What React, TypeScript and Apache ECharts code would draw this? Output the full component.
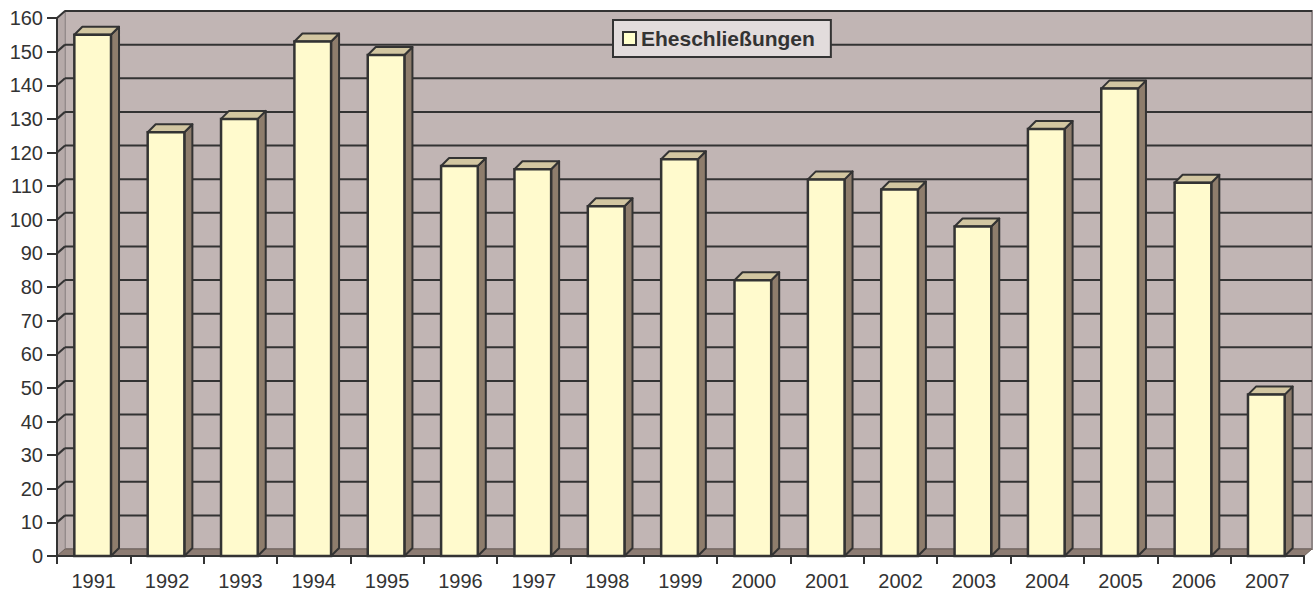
import React, { useEffect, useRef } from "react";
import * as echarts from "echarts";

const categories = ["1991","1992","1993","1994","1995","1996","1997","1998","1999","2000","2001","2002","2003","2004","2005","2006","2007"];
const values = [155, 126, 130, 153, 149, 116, 115, 104, 118, 82, 112, 109, 98, 127, 139, 111, 48];
const seriesName = "Eheschließungen";
const yTicks = [0,10,20,30,40,50,60,70,80,90,100,110,120,130,140,150,160];

const WALL_DX = 8;
const WALL_DY = 7;
const BAR_D = 8;
const FONT = "Arial, 'Liberation Sans', sans-serif";

export default function App() {
  const ref = useRef<HTMLDivElement>(null);
  useEffect(() => {
    if (!ref.current) return;
    const chart = echarts.init(ref.current, null, { renderer: "svg" });
    const textColor = "#333333";
    const option: any = {
      animation: false,
      backgroundColor: "#ffffff",
      grid: { left: 57, right: 10, top: 18, bottom: 35, containLabel: false },
      legend: {
        data: [{ name: seriesName, icon: "rect" }],
        left: 613,
        top: 20,
        z: 20,
        orient: "horizontal",
        padding: [8, 16, 8, 9],
        itemWidth: 13,
        itemHeight: 13,
        itemGap: 7,
        backgroundColor: "#e2dcdc",
        borderColor: "#333333",
        borderWidth: 2,
        borderRadius: 0,
        selectedMode: false,
        textStyle: { fontFamily: FONT, fontSize: 21, fontWeight: "bold", color: "#333333", padding: [0, 0, 0, 0] },
      },
      xAxis: {
        type: "category",
        data: categories,
        boundaryGap: true,
        axisLine: { show: true, lineStyle: { color: "#333333", width: 2 } },
        axisTick: { show: true, length: 8, lineStyle: { color: "#333333", width: 2 } },
        axisLabel: { margin: 15, fontSize: 20, color: textColor, fontFamily: FONT },
        splitLine: { show: false },
        z: 10,
      },
      yAxis: {
        type: "value",
        min: 0,
        max: 160,
        interval: 10,
        axisLine: { show: true, lineStyle: { color: "#333333", width: 2 } },
        axisTick: { show: true, length: 10, lineStyle: { color: "#333333", width: 2 } },
        axisLabel: { margin: 14, fontSize: 20, color: textColor, fontFamily: FONT },
        splitLine: { show: false },
        z: 10,
      },
      series: [
        {
          type: "custom",
          name: "__bg",
          silent: true,
          z: 1,
          data: [0],
          renderItem: (params: any, api: any) => {
            const cs = params.coordSys;
            const x0 = cs.x, x1 = cs.x + cs.width;
            const yb = api.coord([0, 0])[1];
            const yt = api.coord([0, 160])[1];
            const children: any[] = [];
            children.push({
              type: "rect",
              shape: { x: x0 + WALL_DX, y: yt - WALL_DY, width: x1 - x0, height: yb - yt },
              style: { fill: "#c1b5b4", stroke: "#8f8686", lineWidth: 2 },
            });
            children.push({
              type: "polygon",
              shape: { points: [[x0, yb], [x0, yt], [x0 + WALL_DX, yt - WALL_DY], [x0 + WALL_DX, yb - WALL_DY]] },
              style: { fill: "#b6aaa9", stroke: "#9a9090", lineWidth: 1 },
            });
            children.push({
              type: "polygon",
              shape: { points: [[x0, yb], [x1, yb], [x1 + WALL_DX, yb - WALL_DY], [x0 + WALL_DX, yb - WALL_DY]] },
              style: { fill: "#8d7c73", stroke: "#6e625c", lineWidth: 1 },
            });
            for (const v of yTicks) {
              if (v === 0) continue;
              const y = api.coord([0, v])[1];
              children.push({
                type: "line",
                shape: { x1: x0 + WALL_DX, y1: y - WALL_DY, x2: x1 + WALL_DX, y2: y - WALL_DY },
                style: { stroke: "#333333", lineWidth: 2 },
              });
              children.push({
                type: "line",
                shape: { x1: x0, y1: y, x2: x0 + WALL_DX, y2: y - WALL_DY },
                style: { stroke: "#333333", lineWidth: 2 },
              });
            }
            return { type: "group", children };
          },
        },
        {
          type: "custom",
          name: seriesName,
          z: 5,
          itemStyle: { color: "#ffffcc", borderColor: "#333333", borderWidth: 1.5 },
          data: values.map((v, i) => [i, v]),
          encode: { x: 0, y: 1 },
          renderItem: (params: any, api: any) => {
            const i = api.value(0);
            const v = api.value(1);
            const top = api.coord([i, v]);
            const base = api.coord([i, 0]);
            const band = api.size([1, 0])[0];
            const w = band * 0.5;
            const l = top[0] - w / 2 - 1;
            const r = l + w;
            const yt = top[1];
            const yb = base[1];
            const d = BAR_D;
            const stroke = "#333333";
            return {
              type: "group",
              children: [
                {
                  type: "polygon",
                  shape: { points: [[r, yt], [r + d, yt - d], [r + d, yb - d], [r, yb]] },
                  style: { fill: "#8e7d6c", stroke, lineWidth: 2, lineJoin: "round" },
                },
                {
                  type: "polygon",
                  shape: { points: [[l, yt], [l + d, yt - d], [r + d, yt - d], [r, yt]] },
                  style: { fill: "#d2c6a1", stroke, lineWidth: 2, lineJoin: "round" },
                },
                {
                  type: "rect",
                  shape: { x: l, y: yt, width: w, height: yb - yt },
                  style: { fill: "#fffacd", stroke, lineWidth: 2.5 },
                },
              ],
            };
          },
        },
      ],
    };
    chart.setOption(option);
    return () => chart.dispose();
  }, []);
  return (
    <div
      ref={ref}
      style={{ position: "fixed", left: 0, top: 0, width: 1314, height: 591 }}
    />
  );
}
